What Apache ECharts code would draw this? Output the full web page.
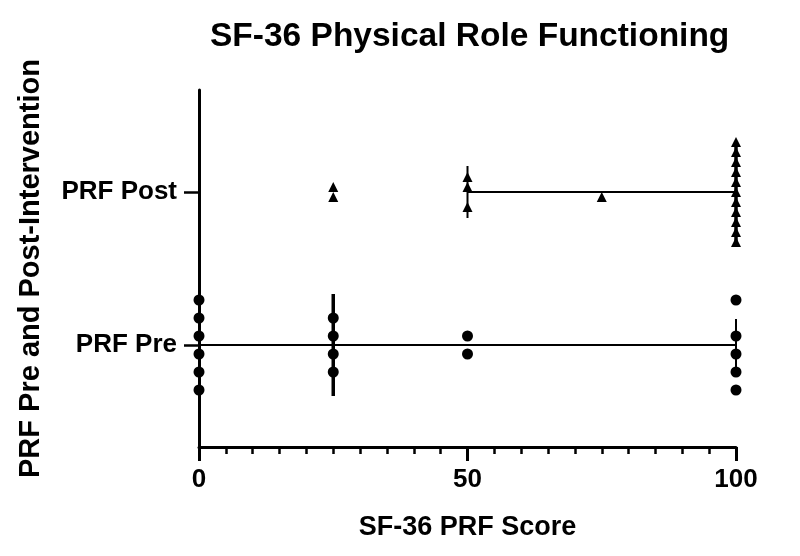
<!DOCTYPE html>
<html>
<head>
<meta charset="utf-8">
<script src="https://cdn.jsdelivr.net/npm/echarts@6/dist/echarts.min.js"></script>
<style>
  html, body { margin: 0; padding: 0; background: #fff; }
  #main { width: 800px; height: 556px; }
</style>
</head>
<body>
<div id="main"></div>
<script>
// group labels on the y axis (1 = Pre, 2 = Post)
const groups = ['PRF Pre', 'PRF Post'];

// individual scores and their stacking slot in the dot column
const preScores = [0, 0, 0, 0, 0, 0, 25, 25, 25, 25, 50, 50, 100, 100, 100, 100, 100];
const preSlots  = [5, 3, 1, -1, -3, -5, 3, 1, -1, -3, 1, -1, 5, 1, -1, -3, -5];

const postScores = [25, 25, 50, 50, 50, 75, 100, 100, 100, 100, 100, 100, 100, 100, 100, 100, 100];
const postSlots  = [1, -1, 3, 1, -3, -1, 10, 8, 6, 4, 2, 0, -2, -4, -6, -8, -10];

// median with interquartile range: [group, Q1, median, Q3]
const preStats  = [1, 0, 25, 100];
const postStats = [2, 50, 100, 100];

const FONT = 'Arial, "Liberation Sans", Helvetica, sans-serif';

function dots(scores, slots, group, step) {
  return scores.map((s, i) => ({
    value: [s, group],
    symbolOffset: [0, -slots[i] * step]
  }));
}

const myChart = echarts.init(document.getElementById('main'));

const option = {
  animation: false,
  title: {
    text: 'SF-36 Physical Role Functioning',
    left: 205,
    top: 15,
    textStyle: { fontFamily: FONT, fontWeight: 'bold', fontSize: 33.5, color: '#000' }
  },
  grid: { left: 199, right: 64, top: 90, bottom: 109 },
  xAxis: {
    type: 'value',
    min: 0,
    max: 100,
    interval: 50,
    name: 'SF-36 PRF Score',
    nameLocation: 'middle',
    nameGap: 67,
    nameTextStyle: { fontFamily: FONT, fontWeight: 'bold', fontSize: 27, color: '#000' },
    axisLine: { lineStyle: { color: '#000', width: 3 } },
    axisTick: { length: 14, lineStyle: { color: '#000', width: 3 } },
    minorTick: { show: true, splitNumber: 10, length: 7, lineStyle: { color: '#000', width: 2.5 } },
    axisLabel: { margin: 20, fontFamily: FONT, fontWeight: 'bold', fontSize: 26, color: '#000' },
    splitLine: { show: false }
  },
  yAxis: {
    type: 'value',
    min: 1 / 3,
    max: 8 / 3,
    name: 'PRF Pre and Post-Intervention',
    nameLocation: 'middle',
    nameGap: 154,
    nameRotate: 90,
    nameTextStyle: { fontFamily: FONT, fontWeight: 'bold', fontSize: 29, color: '#000' },
    axisLine: { show: true, lineStyle: { color: '#000', width: 3 } },
    axisTick: { show: true, customValues: [1, 2], length: 15, lineStyle: { color: '#000', width: 2.5 } },
    axisLabel: {
      customValues: [1, 2],
      margin: 22,
      fontFamily: FONT, fontWeight: 'bold', fontSize: 26, color: '#000',
      formatter: v => groups[Math.round(v) - 1]
    },
    splitLine: { show: false }
  },
  series: [
    {
      name: 'Pre',
      type: 'scatter',
      symbol: 'circle',
      symbolSize: 11,
      itemStyle: { color: '#000', opacity: 1 },
      data: dots(preScores, preSlots, 1, 9)
    },
    {
      name: 'Post',
      type: 'scatter',
      symbol: 'triangle',
      symbolSize: [10, 10],
      itemStyle: { color: '#000', opacity: 1 },
      data: dots(postScores, postSlots, 2, 5)
    },
    {
      name: 'Median IQR',
      type: 'custom',
      encode: { x: [1, 2, 3], y: 0 },
      data: [preStats, postStats],
      z: 3,
      renderItem: (params, api) => {
        const g = api.value(0);
        const a = api.coord([api.value(1), g]);
        const m = api.coord([api.value(2), g]);
        const b = api.coord([api.value(3), g]);
        const thin = { stroke: '#000', lineWidth: 2 };
        const thick = { stroke: '#000', lineWidth: 3.5 };
        return {
          type: 'group',
          children: [
            { type: 'line', shape: { x1: a[0], y1: a[1], x2: b[0], y2: b[1] }, style: thin },
            { type: 'line', shape: { x1: a[0], y1: a[1] - 26, x2: a[0], y2: a[1] + 26 }, style: thin },
            { type: 'line', shape: { x1: b[0], y1: b[1] - 26, x2: b[0], y2: b[1] + 26 }, style: thin },
            { type: 'line', shape: { x1: m[0], y1: m[1] - 51, x2: m[0], y2: m[1] + 51 }, style: thick }
          ]
        };
      }
    }
  ]
};

myChart.setOption(option);
</script>
</body>
</html>
